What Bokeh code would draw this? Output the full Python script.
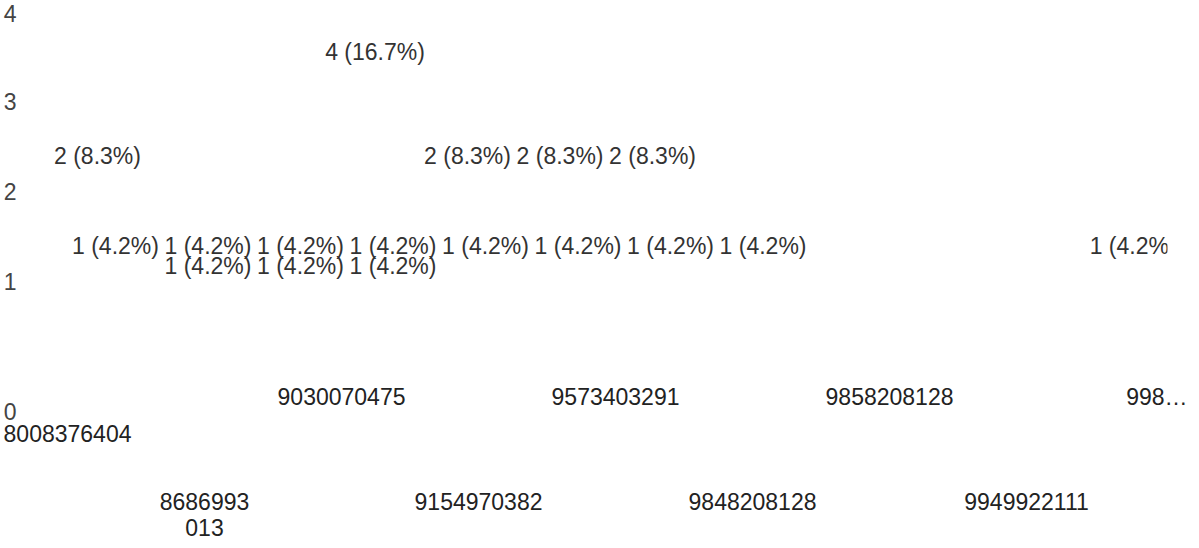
from bokeh.plotting import figure
from bokeh.models import ColumnDataSource, Range1d, LinearAxis, FixedTicker
from bokeh.core.properties import value
from bokeh.embed import file_html
from bokeh.resources import INLINE

# ---- data ----
slots = list(range(12))
upper_counts = [2, 0, 0, 4, 2, 2, 2, 0, 0, 0, 0, 0]
lower_counts = [1, 1, 1, 1, 1, 1, 1, 1, 0, 0, 0, 1]
lower2_counts = [0, 1, 1, 1, 0, 0, 0, 0, 0, 0, 0, 0]

phones = ["8008376404", "8686993013", "9030070475", "9154970382", "9573403291",
          "9848208128", "9858208128", "9949922111", "998…"]
y_ticks = [0, 1, 2, 3, 4]

total = sum(upper_counts) + sum(lower_counts) + sum(lower2_counts)

FONT = "Liberation Sans"
FS = "23px"


def make_source(counts):
    xs, ys, labels = [], [], []
    for s, c in zip(slots, counts):
        if c <= 0:
            continue
        xs.append(s)
        ys.append(min(c + 0.4, 3.56))
        labels.append(f"{c} ({c / total * 100:.1f}%)")
    return ColumnDataSource(dict(x=xs, y=ys, label=labels))


p = figure(
    x_range=Range1d(-0.832, 11.48),
    y_range=Range1d(0, 4.13),
    frame_width=1139,
    frame_height=371,
    x_axis_type=None,
    output_backend="svg",
    toolbar_location=None,
    min_border_left=21,
    min_border_right=20,
    min_border_top=0,
    min_border_bottom=0,
)
p.outline_line_color = None
p.grid.grid_line_color = None
p.background_fill_color = "white"

yax = p.yaxis[0]
yax.ticker = FixedTicker(ticks=y_ticks)
yax.major_label_overrides = {0: "\n\n0"}
yax.major_label_text_line_height = 1.55
yax.axis_line_color = None
yax.major_tick_line_color = None
yax.minor_tick_line_color = None
yax.major_label_standoff = 6
yax.major_label_text_font = FONT
yax.major_label_text_font_size = FS
yax.major_label_text_color = "#444444"

# phone-number axis, labels staggered on two rows
p.extra_x_ranges = {"ph": Range1d(-0.2847, 8.029)}


def phone_label(i, name):
    if name == "8686993013":
        return "8686993\n013"
    if i == 0:
        return "\n" + name
    return name


def phone_axis(idx, standoff, line_height):
    ax = LinearAxis(
        x_range_name="ph",
        ticker=FixedTicker(ticks=idx),
        major_label_overrides={i: phone_label(i, phones[i]) for i in idx},
    )
    ax.axis_line_color = None
    ax.major_tick_line_color = None
    ax.minor_tick_line_color = None
    ax.major_tick_out = 0
    ax.major_tick_in = 0
    ax.major_label_standoff = standoff
    ax.major_label_text_font = FONT
    ax.major_label_text_font_size = FS
    ax.major_label_text_color = "#222222"
    ax.major_label_text_line_height = line_height
    return ax


p.add_layout(phone_axis([i for i in range(len(phones)) if i % 2 == 0], 12, 1.43), "below")
p.add_layout(phone_axis([i for i in range(len(phones)) if i % 2 == 1], 39, 1.0), "below")

for counts, dx, dy in [(upper_counts, -8, 0), (lower_counts, 10, 0), (lower2_counts, 10, 20)]:
    src = make_source(counts)
    p.text(
        x="x", y="y", text="label", source=src,
        text_align="center", text_baseline="middle",
        text_font=value(FONT), text_font_size=FS, text_color="#333333",
        x_offset=dx, y_offset=dy,
    )

open("out.html", "w").write(file_html(p, INLINE))
